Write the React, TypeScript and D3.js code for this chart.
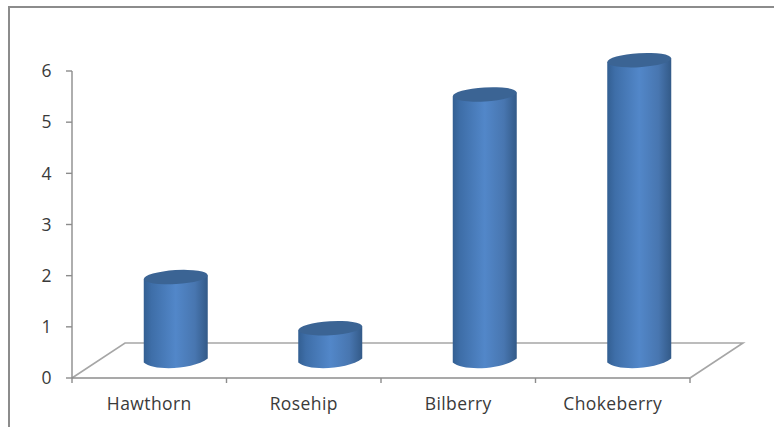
import React from "react";
import * as d3 from "d3";

const categories = ["Hawthorn", "Rosehip", "Bilberry", "Chokeberry"];
const values = [1.63, 0.63, 5.2, 5.87];
const yTicks = [0, 1, 2, 3, 4, 5, 6];

const W = 774;
const H = 427;
const floorDx = 53;
const floorDy = 35;
const barWidth = 64;
const capRy = 7;
const capTilt = -3.5;

const x = d3.scalePoint<number>().domain(d3.range(categories.length + 1)).range([72, 690]);
const y = d3.scaleLinear().domain([0, 6]).range([378, 71]);

const floorLine = d3.line();

// Cylinder side: walls from the base ellipse up to the tilted cap.
function sidePath(cx: number, top: number, base: number) {
  const r = barWidth / 2;
  const tiltRise = Math.tan((-capTilt * Math.PI) / 180) * r;
  const p = d3.path();
  p.moveTo(cx - r, top + tiltRise);
  p.lineTo(cx - r, base + tiltRise);
  p.bezierCurveTo(cx - r + 10, base + tiltRise + capRy + 2, cx + r - 14, base + capRy + 2, cx + r, base - tiltRise);
  p.lineTo(cx + r, top - tiltRise);
  p.closePath();
  return p.toString();
}

export default function App() {
  const step = x(1)! - x(0)!;
  const barCenter = (i: number) => x(i)! + step / 2 + floorDx / 2;
  const depthY = (v: number) => y(v) - floorDy / 2;

  return (
    <svg
      width={W}
      height={H}
      viewBox={`0 0 ${W} ${H}`}
      style={{ position: "absolute", left: 0, top: 0, background: "#fff", display: "block" }}
    >
      <defs>
        <linearGradient id="cyl" x1="0" x2="1" y1="0" y2="0">
          <stop offset="0" stopColor="#335f92" />
          <stop offset="0.12" stopColor="#3e6ea8" />
          <stop offset="0.5" stopColor="#5287c9" />
          <stop offset="0.8" stopColor="#4876b0" />
          <stop offset="1" stopColor="#335a88" />
        </linearGradient>
      </defs>

      {/* outer chart frame */}
      <path d={`M9 ${H}V7H${W}`} fill="none" stroke="#8c8c8c" strokeWidth={2} />

      {/* floor */}
      <g fill="none" stroke="#a6a6a6" strokeWidth={1.6}>
        <path
          d={
            floorLine([
              [x(0)!, y(0)],
              [x(0)! + floorDx, y(0) - floorDy],
              [x(4)! + floorDx, y(0) - floorDy],
              [x(4)!, y(0)],
            ]) ?? ""
          }
        />
      </g>

      {/* value axis */}
      <g stroke="#8c8c8c" strokeWidth={1.4} fill="none">
        <line x1={x(0)!} x2={x(0)!} y1={y(6)} y2={y(0)} />
        <line x1={x(0)!} x2={x(4)!} y1={y(0)} y2={y(0)} />
        {yTicks.map((t) => (
          <line key={t} x1={x(0)! - 6} x2={x(0)!} y1={y(t)} y2={y(t)} />
        ))}
        {d3.range(categories.length + 1).map((i) => (
          <line key={i} x1={x(i)!} x2={x(i)!} y1={y(0)} y2={y(0) + 5} />
        ))}
      </g>

      <g fontFamily="'Open Sans', 'Noto Sans', sans-serif" fontSize={17.5} fill="#3a3a3a" letterSpacing={0.4}>
        {yTicks.map((t) => (
          <text key={t} x={52} y={y(t)} dy="0.36em" textAnchor="end">
            {t}
          </text>
        ))}
        {categories.map((c, i) => (
          <text key={c} x={x(i)! + step / 2} y={410} textAnchor="middle">
            {c}
          </text>
        ))}
      </g>

      {/* cylinders */}
      {values.map((v, i) => {
        const cx = barCenter(i);
        const top = depthY(v);
        const base = depthY(0);
        return (
          <g key={categories[i]}>
            <path d={sidePath(cx, top, base)} fill="url(#cyl)" />
            <ellipse
              cx={cx}
              cy={top}
              rx={barWidth / 2}
              ry={capRy}
              fill="#3b6494"
              transform={`rotate(${capTilt} ${cx} ${top})`}
            />
          </g>
        );
      })}
    </svg>
  );
}
